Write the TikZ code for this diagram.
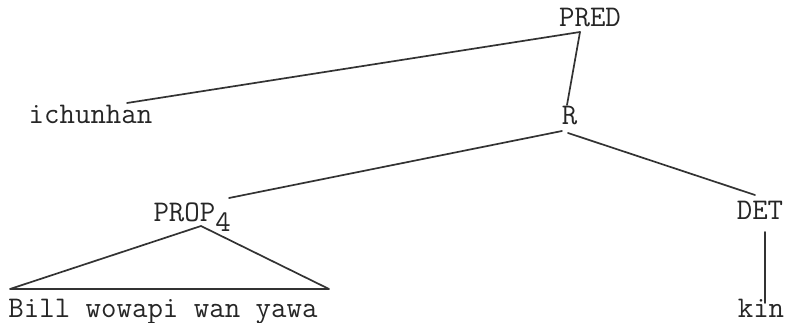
\documentclass[tikz,border=0pt]{standalone}
\usepackage{fontspec}
\setmonofont{Latin Modern Mono}
\begin{document}
\begin{tikzpicture}[x=1pt,y=-1pt,
  lbl/.style={inner sep=0pt,outer sep=0pt,anchor=base,text=black!85,
    font=\ttfamily\fontsize{30}{32}\selectfont},
  branch/.style={line width=1.7pt,draw=black!80,line cap=round}]
\useasboundingbox (0,0) rectangle (787,323);
% labels
\node[lbl] (pred) at (590,27) {PRED};
\node[lbl] (ichunhan) at (90.5,124) {ichunhan};
\node[lbl] (r) at (569.5,125) {R};
\node[lbl,anchor=base west] (prop) at (153.5,222) {PROP\raisebox{-10pt}{4}};
\node[lbl] (det) at (760,220) {DET};
\node[lbl] (kin) at (761,317) {kin};
\node[lbl,anchor=base west] (bill) at (8.5,317) {Bill wowapi wan yawa};
% attachment points
\coordinate (predB) at (580,32);
\coordinate (ichT) at (127,103);
\coordinate (rT) at (567,105);
\coordinate (rBL) at (562,131);
\coordinate (rBR) at (568,133);
\coordinate (propT) at (229,198);
\coordinate (detT) at (755,195);
\coordinate (propB) at (201,226);
\coordinate (triL) at (10,289);
\coordinate (triR) at (329,289);
\coordinate (detB) at (765,232);
\coordinate (kinT) at (765,303);
% branches
\draw[branch] (predB) -- (ichT);
\draw[branch] (predB) -- (rT);
\draw[branch] (rBL) -- (propT);
\draw[branch] (rBR) -- (detT);
\draw[branch,line join=round] (triL) -- (propB) -- (triR) -- cycle;
\draw[branch] (detB) -- (kinT);
\end{tikzpicture}
\end{document}
